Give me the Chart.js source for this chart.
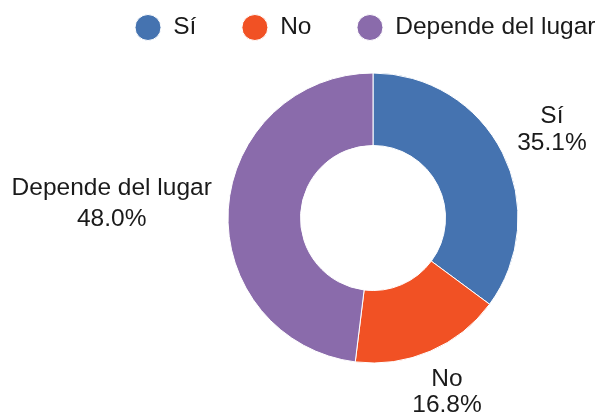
<!DOCTYPE html>
<html>
<head>
<meta charset="utf-8">
<script src="https://cdn.jsdelivr.net/npm/chart.js@4/dist/chart.umd.min.js"></script>
<style>
  html, body { margin: 0; padding: 0; background: #fff; }
</style>
</head>
<body>
<canvas id="pie-chart" width="600" height="415"></canvas>
<script>
const labels = ['Sí', 'No', 'Depende del lugar']
const values = [35.1, 16.8, 48.0]
const colors = ['#4573b0', '#f15124', '#8a6bab']

const FONT = "'Liberation Sans', Arial, sans-serif"
const FONT_SIZE = 24.5

// draws "name / pct" outside each slice, on the ray through the slice middle
const outerLabels = {
    id: 'outerLabels',
    afterDatasetsDraw(chart) {
        const ctx = chart.ctx
        const meta = chart.getDatasetMeta(0)
        const offset = 16.5
        const cap = FONT_SIZE * 0.716
        ctx.save()
        ctx.font = FONT_SIZE + 'px ' + FONT
        ctx.fillStyle = '#1a1a1a'
        ctx.textAlign = 'center'
        ctx.textBaseline = 'alphabetic'
        meta.data.forEach((arc, i) => {
            const lines = [labels[i], values[i].toFixed(1) + '%']
            const desc = Math.max(0, ctx.measureText(lines[0]).actualBoundingBoxDescent || 0)
            const gap = 26.3 + desc
            const w = Math.max(...lines.map(t => ctx.measureText(t).width))
            const h = cap + gap + 4
            const a = (arc.startAngle + arc.endAngle) / 2
            const vx = Math.cos(a)
            const vy = Math.sin(a)
            // distance from the ring edge to the box centre along the ray
            const t = Math.min(
                Math.abs(vx) > 1e-6 ? (w / 2) / Math.abs(vx) : Infinity,
                Math.abs(vy) > 1e-6 ? (h / 2) / Math.abs(vy) : Infinity
            )
            const d = arc.outerRadius + offset + t
            const cx = arc.x + vx * d
            const cy = arc.y + vy * d
            const base1 = cy - (cap + gap) / 2 + cap
            ctx.fillText(lines[0], cx, base1)
            ctx.fillText(lines[1], cx, base1 + gap)
        })
        ctx.restore()
    }
}

var ctx = document.getElementById('pie-chart').getContext('2d')
var pieChart = new Chart(ctx, {
    type: 'doughnut',
    data: {
        labels: labels,
        datasets: [{
            data: values,
            backgroundColor: colors,
            borderColor: '#ffffff',
            borderWidth: 1
        }]
    },
    options: {
        responsive: false,
        animation: false,
        radius: 145,
        cutout: '50%',
        layout: {
            // negative right keeps the legend on one row
            padding: { left: 89.5, right: -56.5, top: -30.25, bottom: 28.75 }
        },
        plugins: {
            tooltip: { enabled: false },
            // empty spacer on the left so the ring sits right of centre
            title: {
                display: true,
                position: 'left',
                text: ' ',
                font: { size: 10, lineHeight: 1 },
                padding: { top: 23.25, bottom: 23.25 }
            },
            legend: {
                position: 'top',
                align: 'start',
                labels: {
                    usePointStyle: true,
                    pointStyle: 'circle',
                    pointStyleWidth: 26,
                    boxHeight: 18.4,
                    padding: 45.5,
                    color: '#1a1a1a',
                    font: { size: FONT_SIZE, family: FONT }
                }
            }
        }
    },
    plugins: [outerLabels]
});
</script>
</body>
</html>
